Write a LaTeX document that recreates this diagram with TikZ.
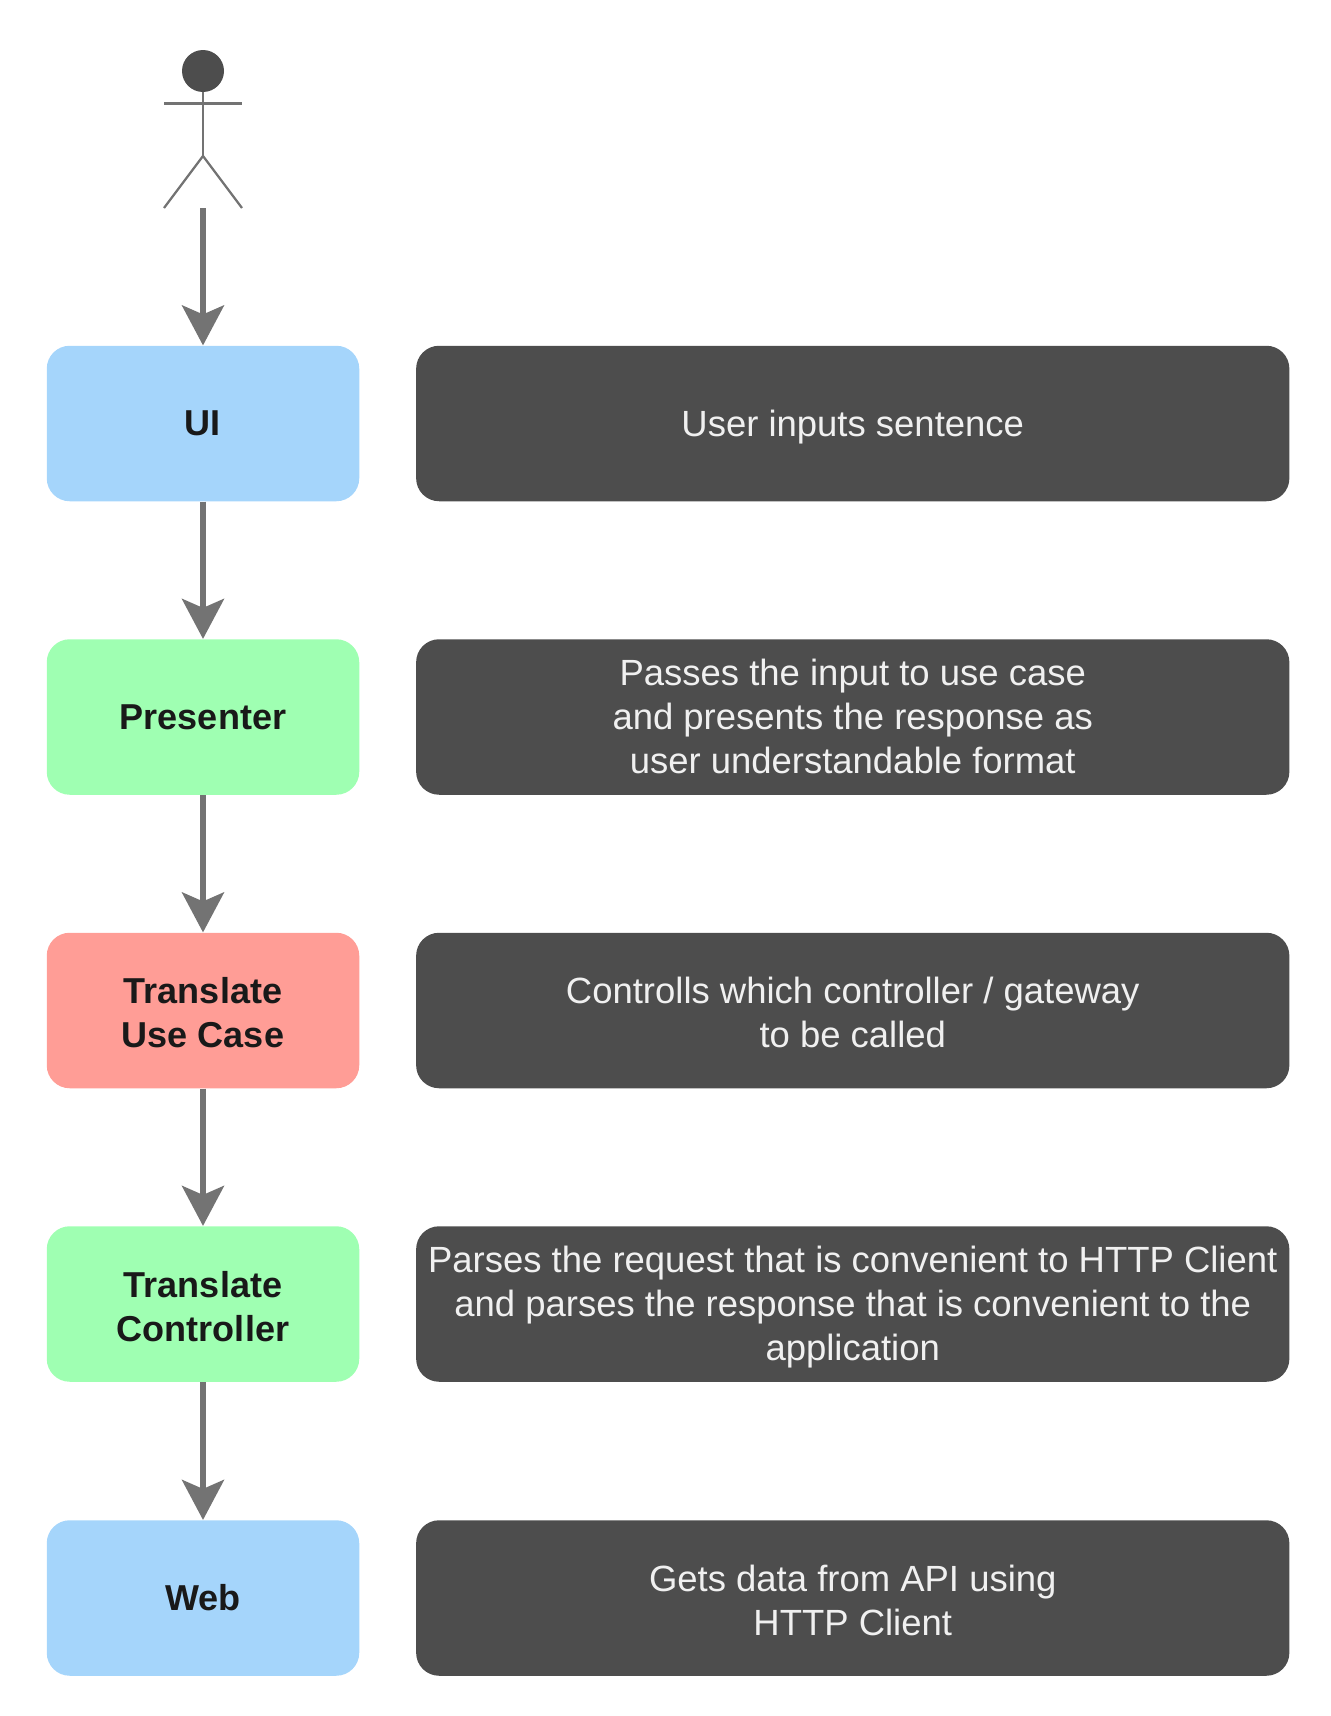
\documentclass[tikz,border=0pt]{standalone}
\usepackage{fontspec}
\setmainfont{Liberation Sans}
\usepackage{xcolor}
\usetikzlibrary{arrows.meta}
\definecolor{uiblue}{HTML}{A5D5FB}
\definecolor{presgreen}{HTML}{9FFFB2}
\definecolor{casered}{HTML}{FF9D96}
\definecolor{notedark}{HTML}{4D4D4D}
\definecolor{arrowgray}{HTML}{737373}
\tikzset{
    layer/.style={rounded corners=0.46cm, minimum width=6.25cm, minimum height=3.11cm,
        inner sep=0pt, align=center, text=black!90, font=\fontsize{20.5}{25}\selectfont\bfseries},
    note/.style={rounded corners=0.46cm, minimum width=17.465cm, minimum height=3.11cm, fill=notedark,
        inner sep=0pt, align=center, text=white!94!black, text depth=0.8pt, font=\fontsize{20.75}{25}\selectfont},
    twoline/.style={text height=42.5pt, text depth=0pt},
    flow/.style={draw=arrowgray, line width=0.11cm, -{Stealth[length=0.8cm,width=0.84cm,inset=0.18cm]}},
    stick/.style={draw=arrowgray, line width=0.045cm}
}
\begin{document}
\begin{tikzpicture}
    \useasboundingbox (0,0) rectangle (26.6,-34.32);
    % actor
    \node[circle, fill=notedark, minimum size=0.84cm, inner sep=0pt] (head) at (4.06,-1.42) {};
    \coordinate (shoulderl) at (3.28,-2.07);
    \coordinate (shoulderr) at (4.84,-2.07);
    \coordinate (hip) at (4.06,-3.12);
    \coordinate (footl) at (3.28,-4.16);
    \coordinate (footr) at (4.84,-4.16);
    \coordinate (user) at (4.06,-4.16);
    \draw[stick] (head) -- (hip);
    \draw[stick] (shoulderl) -- (shoulderr);
    \draw[stick] (footl) -- (hip) -- (footr);
    % layers
    \node[layer, fill=uiblue] (ui) at (4.06,-8.47) {UI};
    \node[layer, fill=presgreen] (presenter) at (4.06,-14.34) {Presenter};
    \node[layer, twoline, fill=casered] (usecase) at (4.06,-20.21) {Translate\\Use Case};
    \node[layer, twoline, fill=presgreen] (controller) at (4.06,-26.08) {Translate\\Controller};
    \node[layer, fill=uiblue] (web) at (4.06,-31.96) {Web};
    % notes
    \node[note] (nui) at (17.055,-8.47) {User inputs sentence};
    \node[note] (npresenter) at (17.055,-14.34) {Passes the input to use case\\and presents the response as\\user understandable format};
    \node[note, twoline] (nusecase) at (17.055,-20.21) {Controlls which controller / gateway\\to be called};
    \node[note] (ncontroller) at (17.055,-26.08) {Parses the request that is convenient to HTTP Client\\and parses the response that is convenient to the\\application};
    \node[note, twoline] (nweb) at (17.055,-31.96) {Gets data from API using\\HTTP Client};
    % arrows
    \draw[flow] (user) -- (ui);
    \draw[flow] (ui) -- (presenter);
    \draw[flow] (presenter) -- (usecase);
    \draw[flow] (usecase) -- (controller);
    \draw[flow] (controller) -- (web);
\end{tikzpicture}
\end{document}
